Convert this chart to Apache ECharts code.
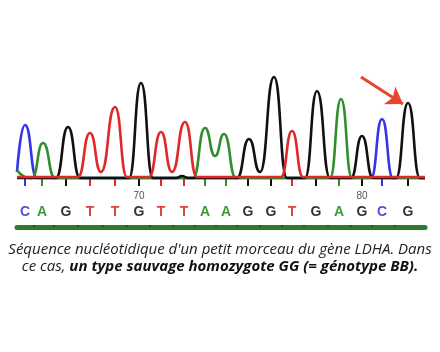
<!DOCTYPE html>
<html>
<head>
<meta charset="utf-8">
<script src="https://cdn.jsdelivr.net/npm/echarts@6.0.0/dist/echarts.min.js"></script>
<style>
  html, body { margin: 0; padding: 0; background: #fff; }
  #main { width: 440px; height: 352px; }
</style>
</head>
<body>
<div id="main"></div>
<script>
// séquence lue (base calls) et position de chaque appel (unités de scan)
var bases    = ['C','A','G','T','T','G','T','T','A','A','G','G','T','G','A','G','C','G'];
var basePos  = [25, 42, 66, 90, 115, 139, 161, 184, 205, 226, 248, 271, 292, 316, 339, 362, 382, 408];
var firstNum = 65; // numéro de la première base affichée

// traces du chromatogramme : [position, intensité]
var traceC = [[17,6],[25,53],[37,0],[371,0],[382,59],[393,0],[425,0]];
var traceA = [[17,8],[29,0],[32,0],[43,35],[55,0],[193,0],[205,50],[215,22],[224,44],[236,0],[330,0],[341,79],[352,0],[425,0]];
var traceG = [[17,0],[56,0],[68,51],[80,0],[129,0],[141,95],[153,0],[176,0],[182,2],[188,0],[237,0],[249,39],[260,6],[274,101],[287,0],
              [305,0],[317,87],[330,0],[351,0],[362,42],[373,0],[396,0],[408,75],[420,0],[425,0]];
var traceT = [[17,1],[78,1],[90,45],[101,6],[115,71],[127,1],[149,1],[161,46],[172,6],[185,56],[197,1],[281,1],[292,47],[303,1],[425,1]];

// flèche rouge (début, fin)
var arrowFrom = [361, 101];
var arrowTo   = [403, 74];

var colors = { A: '#2f8f2f', C: '#3535e6', G: '#111111', T: '#e0282b' };
var letterColors = { A: '#3a9a3a', C: '#4f4fdc', G: '#333333', T: '#e04343' };

var chart = echarts.init(document.getElementById('main'), null, { renderer: 'canvas' });

var X_MIN = 17, X_MAX = 425;

// positions des ticks par base
var posOf = function (b) {
	var arr = [];
	for (var i = 0; i < bases.length; i++) {
		if (bases[i] === b) arr.push(basePos[i]);
	}
	return arr;
};
// numéros (70, 80...)
var numPos = [];
for (var i = 0; i < bases.length; i++) {
	if ((firstNum + i) % 10 === 0) numPos.push(basePos[i]);
}
// séparations entre bases (petits repères sur la barre verte)
var sepPos = [];
for (var j = 1; j < basePos.length; j++) {
	sepPos.push((basePos[j - 1] + basePos[j]) / 2);
}

var tickAxis = function (b) {
	return {
		type: 'value', min: X_MIN, max: X_MAX, position: 'bottom',
		axisLine: { show: false }, splitLine: { show: false }, axisLabel: { show: false },
		axisTick: { show: true, customValues: posOf(b), length: 8, lineStyle: { color: colors[b], width: 2 } }
	};
};

var rich = {};
['A','C','G','T'].forEach(function (b) {
	rich[b] = { color: letterColors[b], fontSize: 14, fontFamily: 'Liberation Sans', fontWeight: 'bold' };
});

var traceSeries = function (name, data, color) {
	return {
		name: name, type: 'line', data: data, showSymbol: false, smooth: 0.55, smoothMonotone: 'x',
		clip: false, silent: true,
		lineStyle: { color: color, width: 2.6 }
	};
};

var series = [
	traceSeries('C', traceC, colors.C),
	traceSeries('A', traceA, colors.A),
	traceSeries('G', traceG, colors.G),
	traceSeries('T', traceT, colors.T)
];
series[3].markLine = {
	silent: true, animation: false,
	symbol: ['none', 'arrow'], symbolSize: 16,
	lineStyle: { color: '#e8452f', width: 3, type: 'solid' },
	label: { show: false },
	data: [[{ coord: arrowFrom }, { coord: arrowTo }]]
};

var option = {
	animation: false,
	backgroundColor: '#fff',
	grid: { left: 17, right: 15, top: 68, bottom: 174 },
	title: {
		text: 'Séquence nucléotidique d\'un petit morceau du gène LDHA. Dans\nce cas, {b|un type sauvage homozygote GG (= génotype BB).}',
		left: 'center', top: 236,
		textStyle: {
			fontFamily: 'Open Sans', fontStyle: 'italic', fontWeight: 'normal', fontSize: 15, color: '#222', lineHeight: 17,
			rich: { b: { fontFamily: 'Open Sans', fontStyle: 'italic', fontWeight: 'bold', fontSize: 15, color: '#111', lineHeight: 17 } }
		}
	},
	xAxis: [
		{ type: 'value', min: X_MIN, max: X_MAX, show: false },
		tickAxis('C'), tickAxis('A'), tickAxis('G'), tickAxis('T'),
		{ // lettres
			type: 'value', min: X_MIN, max: X_MAX, position: 'bottom',
			axisLine: { show: false }, axisTick: { show: false }, splitLine: { show: false },
			axisLabel: {
				customValues: basePos, margin: 27,
				formatter: function (v) { var b = bases[basePos.indexOf(v)]; return '{' + b + '|' + b + '}'; },
				rich: rich
			}
		},
		{ // numéros
			type: 'value', min: X_MIN, max: X_MAX, position: 'bottom',
			axisLine: { show: false }, axisTick: { show: false }, splitLine: { show: false },
			axisLabel: {
				customValues: numPos, margin: 13, fontSize: 10, color: '#555', fontFamily: 'Liberation Sans',
				formatter: function (v) { return String(firstNum + basePos.indexOf(v)); }
			}
		},
		{ // barre verte
			type: 'value', min: X_MIN, max: X_MAX, position: 'bottom', offset: 49,
			axisLine: { show: true, lineStyle: { color: '#2e7a2e', width: 5 } },
			axisTick: { show: true, inside: true, customValues: sepPos, length: 2, lineStyle: { color: '#1d4f1d', width: 1.5 } },
			axisLabel: { show: false }, splitLine: { show: false }
		}
	],
	yAxis: { type: 'value', min: 0, max: 110, show: false },
	series: series
};

chart.setOption(option);
</script>
</body>
</html>
